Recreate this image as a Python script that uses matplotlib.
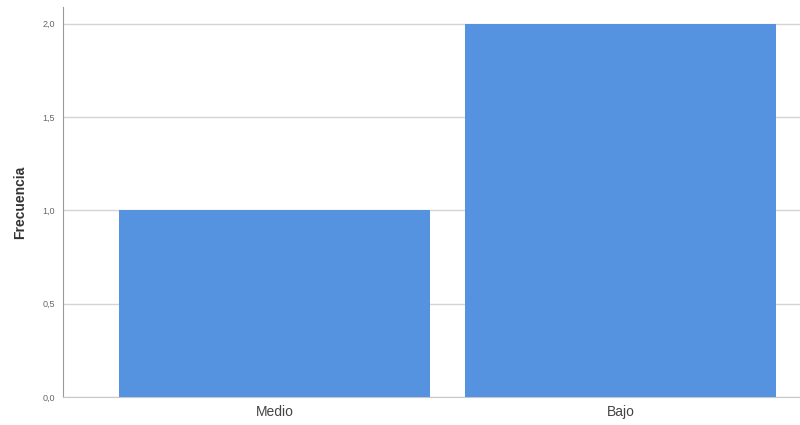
import matplotlib
matplotlib.use("Agg")
import matplotlib.pyplot as plt

categorias = ["Medio", "Bajo"]
frecuencias = [1, 2]
ticks_y = [0.0, 0.5, 1.0, 1.5, 2.0]
etiquetas_y = ["0,0", "0,5", "1,0", "1,5", "2,0"]

plt.rcParams['font.family'] = ['Liberation Sans', 'DejaVu Sans']

fig = plt.figure(figsize=(8, 4.25), dpi=100)
ax = fig.add_axes([63/800, 28/425, 1 - 63/800, 390/425])

pos = list(range(len(categorias)))
ax.bar(pos, frecuencias, width=0.9, color='#5592e0', zorder=3)

ax.set_xlim(-0.611, 1.519)
ax.set_ylim(0, 2.09)
ax.set_yticks(ticks_y)
ax.set_yticklabels(etiquetas_y, fontsize=6.5, color='#666666')
ax.set_xticks(pos)
ax.set_xticklabels(categorias, fontsize=10, color='#444444')
ax.tick_params(axis='both', length=0)
ax.tick_params(axis='y', pad=6)
ax.tick_params(axis='x', pad=6)

ax.grid(axis='y', color='#d4d4d4', linewidth=1, zorder=0)
for s in ['top', 'right']:
    ax.spines[s].set_visible(False)
ax.spines['left'].set_color('#9a9a9a')
ax.spines['bottom'].set_color('#c8c8c8')

ax.set_ylabel('Frecuencia', fontsize=10, fontweight='bold', color='#333333', labelpad=11)

fig.savefig('out.png', dpi=100)
